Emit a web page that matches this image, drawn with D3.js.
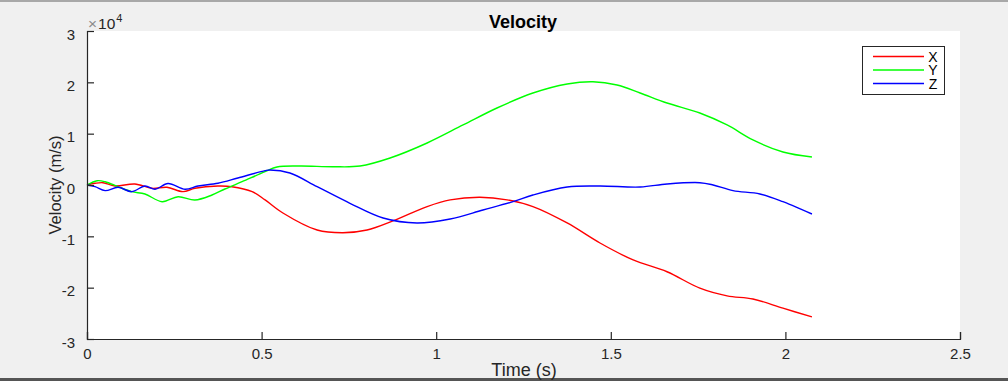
<!DOCTYPE html>
<html>
<head>
<meta charset="utf-8">
<script src="https://cdn.jsdelivr.net/npm/d3@7"></script>
<style>
  html, body { margin: 0; padding: 0; background: #f0f0f0; }
  svg { display: block; }
  text { font-family: "Liberation Sans", Arial, Helvetica, sans-serif; }
</style>
</head>
<body>
<svg id="chart" width="1008" height="381"></svg>
<script>
// ---- data (velocity in m/s, time in s) ----
const seriesNames = ["X", "Y", "Z"];
const seriesColors = ["#ff0000", "#00ff00", "#0000ff"];

const timeX = [0, 0.023, 0.046, 0.080, 0.137, 0.186, 0.229, 0.275, 0.309, 0.375, 0.415, 0.473, 0.510, 0.561, 0.659, 0.733, 0.802, 0.876, 0.974, 1.040, 1.125, 1.203, 1.277, 1.375, 1.469, 1.564, 1.661, 1.755, 1.833, 1.907, 1.993, 2.076];
const velX = [0, 330, 450, -200, 200, -640, -450, -1300, -640, -200, -330, -1300, -2900, -5450, -8770, -9300, -8770, -7000, -4200, -2900, -2400, -2900, -4200, -7400, -11300, -14600, -16900, -20100, -21600, -22200, -24000, -25700];

const timeY = [0, 0.029, 0.052, 0.089, 0.128, 0.166, 0.215, 0.261, 0.309, 0.358, 0.395, 0.444, 0.510, 0.544, 0.610, 0.704, 0.782, 0.868, 0.974, 1.077, 1.174, 1.277, 1.375, 1.449, 1.518, 1.584, 1.661, 1.755, 1.833, 1.907, 1.993, 2.076];
const velY = [0, 840, 640, -330, -1300, -1750, -3250, -2280, -2920, -1950, -780, 640, 2590, 3510, 3700, 3560, 3700, 5260, 8180, 11690, 15000, 17920, 19680, 20120, 19480, 17920, 15970, 14030, 11690, 8770, 6430, 5450];

const timeZ = [0, 0.023, 0.052, 0.089, 0.128, 0.166, 0.195, 0.232, 0.281, 0.318, 0.375, 0.432, 0.510, 0.524, 0.581, 0.659, 0.753, 0.848, 0.945, 1.040, 1.134, 1.220, 1.277, 1.375, 1.469, 1.584, 1.661, 1.755, 1.793, 1.850, 1.927, 1.993, 2.076];
const velZ = [0, -330, -1100, -450, -1300, -200, -840, 300, -840, -200, 330, 1360, 2790, 2920, 2340, -330, -3560, -6430, -7400, -6620, -4870, -3250, -1950, -390, -200, -390, 200, 450, 0, -1100, -1750, -3250, -5650];

const xTicks = [0, 0.5, 1, 1.5, 2, 2.5];
const yTicks = [-30000, -20000, -10000, 0, 10000, 20000, 30000];

const titleText = "Velocity";
const xLabel = "Time (s)";
const yLabel = "Velocity (m/s)";

// ---- layout ----
const W = 1008, H = 381;
const L = 87, R = 960, T = 31, B = 339;
const svg = d3.select("#chart");

// window frame lines
svg.append("rect").attr("x", 0).attr("y", 0).attr("width", W).attr("height", H).attr("fill", "#f0f0f0");
svg.append("rect").attr("x", 0).attr("y", 0).attr("width", W).attr("height", 2).attr("fill", "#a8a8a8");
svg.append("rect").attr("x", 0).attr("y", 378).attr("width", W).attr("height", 3).attr("fill", "#555555");

const x = d3.scaleLinear().domain([0, 2.5]).range([L, R]);
const y = d3.scaleLinear().domain([-30000, 30000]).range([B, T]);

// plot background
svg.append("rect").attr("x", L).attr("y", T).attr("width", R - L).attr("height", B - T).attr("fill", "#ffffff");

// lines
const series = [
  { t: timeX, v: velX },
  { t: timeY, v: velY },
  { t: timeZ, v: velZ }
];
const line = d3.line().x(d => x(d[0])).y(d => y(d[1])).curve(d3.curveCatmullRom.alpha(0.5));
const plotG = svg.append("g");
series.forEach((s, i) => {
  const pts = s.t.map((t, j) => [t, s.v[j]]);
  plotG.append("path").datum(pts)
    .attr("d", line)
    .attr("fill", "none")
    .attr("stroke", seriesColors[i])
    .attr("stroke-width", 1.4)
    .attr("stroke-linejoin", "round");
});

// axes
const axisColor = "#262626";
const xAxis = d3.axisBottom(x).tickValues(xTicks).tickSize(-7).tickPadding(13)
  .tickFormat(d => d3.format("")(d));
const yAxis = d3.axisLeft(y).tickValues(yTicks).tickSize(-7).tickPadding(13)
  .tickFormat(d => String(d / 10000));

const gx = svg.append("g").attr("transform", `translate(0,${B})`).call(xAxis);
const gy = svg.append("g").attr("transform", `translate(${L},0)`).call(yAxis);
[gx, gy].forEach(g => {
  g.select(".domain").attr("stroke", axisColor).attr("stroke-width", 1.2);
  g.selectAll(".tick line").attr("stroke", axisColor).attr("stroke-width", 1.2);
  g.selectAll(".tick text").attr("fill", "#262626").attr("font-size", 15)
    .style("font-family", '"Liberation Sans", Arial, sans-serif');
});
gx.selectAll(".tick text").attr("dy", "0.45em");
gy.selectAll(".tick text").attr("dy", "0.55em").attr("dx", "1px");

// exponent label
const expG = svg.append("text").attr("x", 88).attr("y", 29).attr("font-size", 15.5).attr("fill", "#262626");
expG.append("tspan").text("×").attr("fill", "#8a8a8a");
expG.append("tspan").text("10").attr("dx", 1);
expG.append("tspan").text("4").attr("font-size", 11).attr("dy", -7).attr("dx", 1);

// title
svg.append("text").attr("x", 523).attr("y", 28).attr("text-anchor", "middle")
  .attr("font-size", 18).attr("font-weight", "bold").attr("fill", "#000").text(titleText);

// axis labels
svg.append("text").attr("x", 524).attr("y", 376).attr("text-anchor", "middle")
  .attr("font-size", 18).attr("fill", "#262626").text(xLabel);
svg.append("text").attr("transform", "translate(61,185) rotate(-90)").attr("text-anchor", "middle")
  .attr("font-size", 16.5).attr("fill", "#262626").text(yLabel);

// legend
const lg = svg.append("g");
lg.append("rect").attr("x", 862.5).attr("y", 46.5).attr("width", 82).attr("height", 48)
  .attr("fill", "#ffffff").attr("stroke", "#262626").attr("stroke-width", 1);
const legendY = d3.scalePoint().domain(seriesNames).range([56.5, 83.5]);
seriesNames.forEach((n, i) => {
  lg.append("line").attr("x1", 873).attr("x2", 924)
    .attr("y1", legendY(n)).attr("y2", legendY(n))
    .attr("stroke", seriesColors[i]).attr("stroke-width", 1.4);
  lg.append("text").attr("x", 933).attr("y", legendY(n) + 5).attr("text-anchor", "middle")
    .attr("font-size", 14).attr("fill", "#000").text(n);
});
</script>
</body>
</html>
